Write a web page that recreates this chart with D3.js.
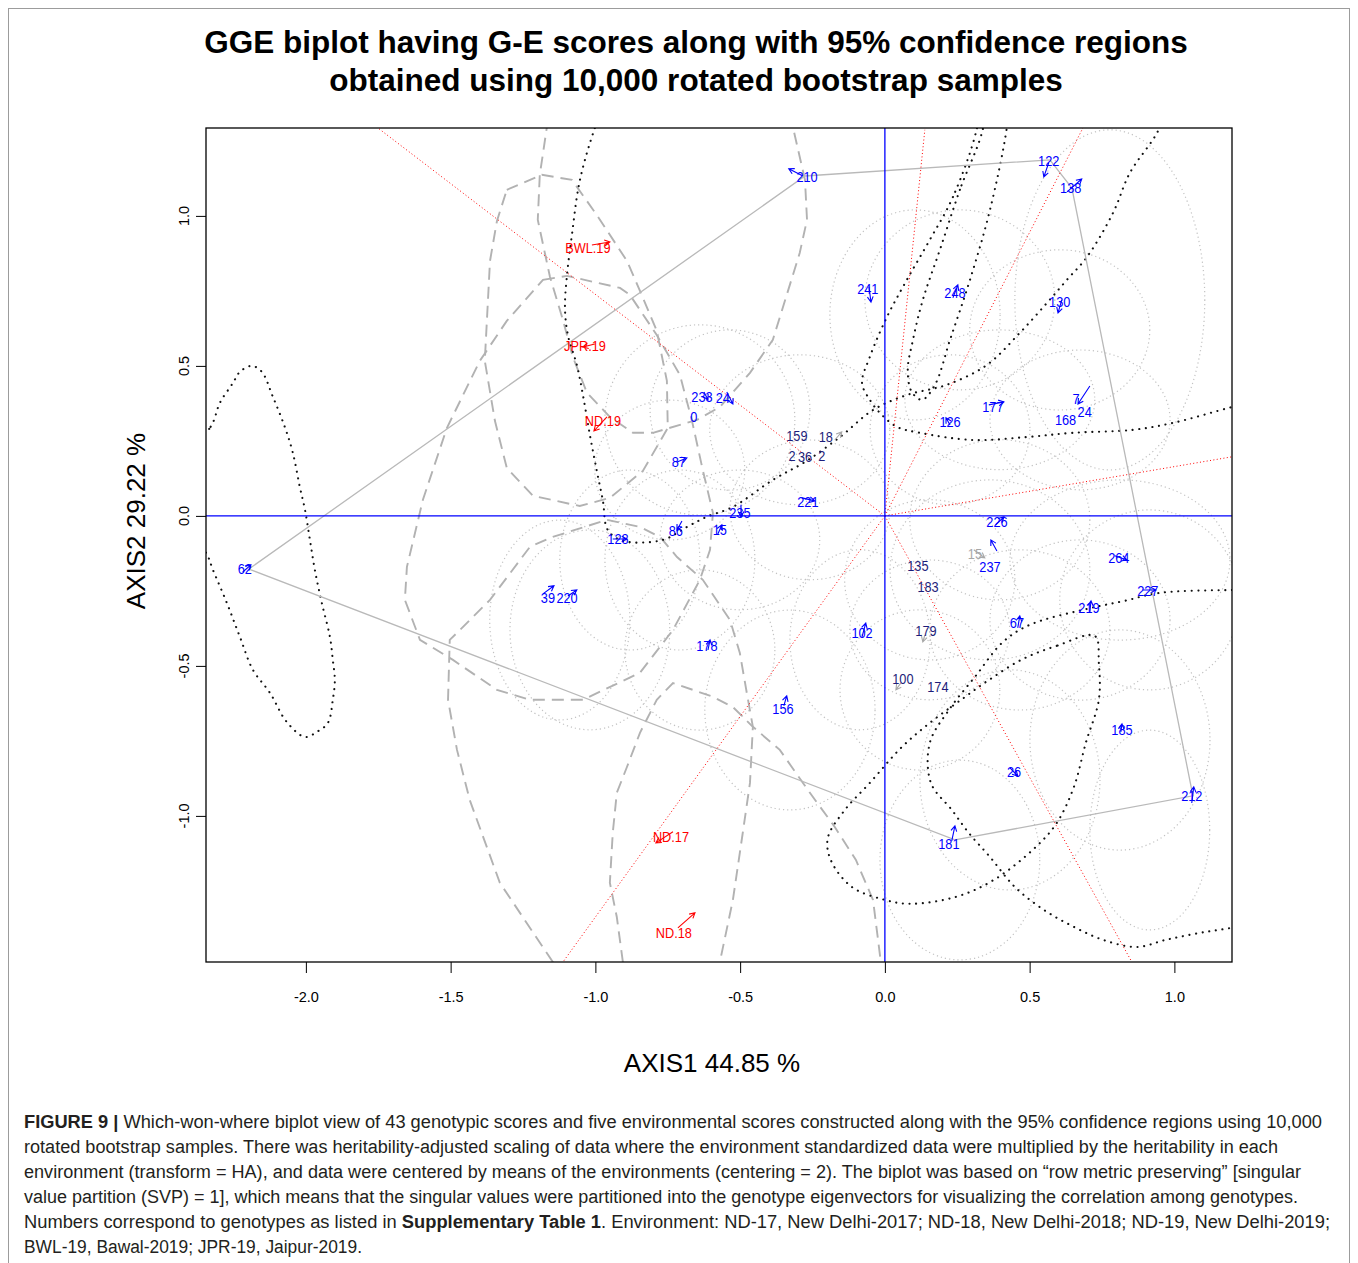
<!DOCTYPE html>
<html><head><meta charset="utf-8">
<script src="https://cdn.jsdelivr.net/npm/d3@7"></script>
<style>body{margin:0;background:#fff}svg{display:block}</style>
</head><body>
<svg id="c" width="1358" height="1263"></svg>
<script>
// ---------------- DATA ----------------
const titleLines = ["GGE biplot having G-E scores along with 95% confidence regions",
                    "obtained using 10,000 rotated bootstrap samples"];
const xAxisTitle = "AXIS1 44.85 %";
const yAxisTitle = "AXIS2 29.22 %";
const xTicks = [-2.0, -1.5, -1.0, -0.5, 0.0, 0.5, 1.0];
const yTicks = [-1.0, -0.5, 0.0, 0.5, 1.0];

// genotype scores (label, AXIS1, AXIS2, colour class b=blue n=navy g=gray)
const genoLabels = ["210","122","138","241","248","130","233","24","0","87","159","18","2","36","2","221","235","86","15","128","62","39","220","178","156","102","135","183","179","100","174","226","15","237","264","227","219","67","185","26","212","181","126","177","168","7","24"];
const genoX = [-0.269,0.566,0.642,-0.059,0.242,0.604,-0.632,-0.560,-0.660,-0.712,-0.304,-0.204,-0.321,-0.276,-0.218,-0.266,-0.501,-0.722,-0.570,-0.922,-2.211,-1.164,-1.098,-0.615,-0.352,-0.079,0.114,0.149,0.142,0.062,0.183,0.387,0.311,0.363,0.808,0.908,0.705,0.456,0.819,0.446,1.060,0.221,0.225,0.373,0.624,0.660,0.690];
const genoY = [1.130,1.183,1.093,0.757,0.743,0.713,0.397,0.393,0.330,0.180,0.267,0.263,0.200,0.197,0.200,0.047,0.010,-0.050,-0.047,-0.077,-0.177,-0.273,-0.273,-0.433,-0.643,-0.390,-0.167,-0.237,-0.383,-0.543,-0.570,-0.020,-0.127,-0.170,-0.140,-0.250,-0.307,-0.357,-0.713,-0.853,-0.933,-1.093,0.313,0.363,0.322,0.392,0.348];
const genoColor = ["b","b","b","b","b","b","b","b","b","b","n","n","n","n","n","b","b","b","b","b","b","b","b","b","b","b","n","n","n","n","n","b","g","b","b","b","b","b","b","b","b","b","b","b","b","b","b"];

// environment scores
const envLabels = ["BWL.19","JPR.19","ND.19","ND.17","ND.18"];
const envX = [-1.026,-1.036,-0.974,-0.739,-0.729];
const envY = [0.893,0.567,0.317,-1.070,-1.390];

// convex hull (which-won-where polygon) vertices: 62, 210, 122, 138, 212, 181
const hullX = [-2.197,-0.276,0.570,0.646,1.064,0.242];
const hullY = [-0.177,1.133,1.187,1.093,-0.933,-1.080];

// sector rays from the origin (end points on the plot border)
const rayX = [-1.751,0.138,0.684,1.199,0.853,-1.112];
const rayY = [1.293,1.287,1.293,0.197,-1.487,-1.487];

// small bootstrap arrows: [x0,y0,x1,y1,colour]
const genoArrows = [
 [-0.283,1.133,-0.332,1.157,"b"],[0.566,1.177,0.549,1.130,"b"],[0.629,1.080,0.680,1.123,"b"],
 [-0.055,0.763,-0.048,0.713,"b"],[0.235,0.727,0.252,0.770,"b"],[0.611,0.720,0.598,0.677,"b"],
 [0.359,0.370,0.411,0.380,"b"],[0.225,0.303,0.211,0.327,"b"],[0.708,0.433,0.667,0.373,"b"],
 [-0.625,0.413,-0.611,0.387,"b"],[-0.546,0.413,-0.525,0.373,"b"],[-0.718,0.180,-0.684,0.193,"b"],
 [-0.287,0.060,-0.242,0.050,"b"],[-0.497,0.037,-0.497,-0.003,"b"],[-0.701,-0.017,-0.718,-0.047,"b"],
 [-0.577,-0.060,-0.563,-0.030,"b"],[-0.940,-0.077,-0.891,-0.077,"b"],[-2.218,-0.187,-2.190,-0.163,"b"],
 [-1.181,-0.260,-1.143,-0.233,"b"],[-1.095,-0.267,-1.064,-0.247,"b"],[-0.611,-0.447,-0.604,-0.413,"b"],
 [-0.349,-0.633,-0.339,-0.600,"b"],[-0.079,-0.403,-0.066,-0.357,"b"],[0.383,-0.030,0.411,-0.003,"b"],
 [0.387,-0.117,0.366,-0.080,"b"],[0.307,-0.113,0.345,-0.140,"g"],[0.794,-0.133,0.836,-0.147,"b"],
 [0.891,-0.247,0.936,-0.247,"b"],[0.708,-0.320,0.712,-0.283,"b"],[0.459,-0.373,0.466,-0.333,"b"],
 [0.815,-0.720,0.819,-0.693,"b"],[0.432,-0.840,0.459,-0.867,"b"],[1.060,-0.957,1.067,-0.903,"b"],
 [0.231,-1.083,0.242,-1.033,"b"],[0.055,-0.557,0.038,-0.580,"g"],[0.138,-0.397,0.131,-0.420,"g"],
 [-0.173,0.253,-0.149,0.280,"g"]
];
const envArrows = [
 [-1.012,0.903,-0.950,0.913],[-1.002,0.573,-1.043,0.563],[-0.960,0.330,-1.005,0.283],
 [-0.732,-1.053,-0.791,-1.090],[-0.715,-1.373,-0.656,-1.323]
];

// genotype 95% confidence regions (light dotted), centre & half-axes
const ellCX = [0.104,0.259,0.777,0.604,0.397,0.674,0.225,-0.639,-0.535,-0.743,-0.294,-0.259,-0.501,-0.708,-0.881,-1.123,-1.019,-0.639,-0.328,-0.086,0.155,0.155,0.121,0.397,0.363,0.812,0.915,0.674,0.466,0.812,0.432,0.915,0.259];
const ellCY = [0.670,0.720,0.720,0.620,0.387,0.320,0.287,0.320,0.353,0.153,0.287,0.020,-0.080,-0.147,-0.147,-0.347,-0.380,-0.447,-0.647,-0.413,-0.213,-0.380,-0.580,-0.013,-0.180,-0.147,-0.280,-0.347,-0.380,-0.747,-0.880,-1.047,-1.147];
const ellRX = [0.294,0.328,0.328,0.311,0.328,0.311,0.276,0.328,0.276,0.259,0.311,0.276,0.276,0.259,0.242,0.242,0.276,0.259,0.294,0.242,0.294,0.276,0.276,0.311,0.345,0.380,0.311,0.311,0.311,0.311,0.311,0.207,0.276];
const ellRY = [0.350,0.300,0.567,0.267,0.233,0.233,0.250,0.317,0.267,0.233,0.250,0.233,0.233,0.300,0.300,0.333,0.333,0.267,0.333,0.300,0.267,0.233,0.267,0.267,0.300,0.267,0.300,0.267,0.267,0.367,0.367,0.333,0.333];

// environment confidence regions (dashed)
const regionBWL = [[-1.306,1.087],[-1.185,1.137],[-1.081,1.120],[-0.995,1.003],[-0.891,0.850],[-0.846,0.750],[-0.788,0.617],[-0.753,0.450],[-0.750,0.293],[-0.836,0.150],[-0.950,0.060],[-1.054,0.033],[-1.216,0.067],[-1.306,0.160],[-1.347,0.317],[-1.382,0.517],[-1.364,0.850],[-1.340,0.983]];
const regionJPR = [[-1.181,0.787],[-1.098,0.800],[-0.915,0.760],[-0.881,0.737],[-0.788,0.603],[-0.708,0.470],[-0.667,0.320],[-0.629,0.153],[-0.594,0.010],[-0.604,-0.113],[-0.639,-0.213],[-0.732,-0.380],[-0.846,-0.523],[-1.043,-0.613],[-1.226,-0.613],[-1.340,-0.580],[-1.492,-0.480],[-1.606,-0.413],[-1.658,-0.280],[-1.651,-0.170],[-1.596,0.053],[-1.513,0.293],[-1.399,0.517],[-1.306,0.650]];
const regionND19 = [[-1.160,1.45],[-1.168,1.293],[-1.192,1.137],[-1.199,0.987],[-1.157,0.797],[-1.112,0.653],[-1.078,0.530],[-1.029,0.410],[-0.950,0.330],[-0.870,0.277],[-0.801,0.277],[-0.649,0.320],[-0.570,0.363],[-0.466,0.477],[-0.387,0.587],[-0.294,0.877],[-0.269,0.987],[-0.276,1.120],[-0.317,1.293],[-0.330,1.45]];
const regionND17 = [[-1.147,-1.487],[-1.330,-1.223],[-1.434,-0.947],[-1.478,-0.780],[-1.509,-0.613],[-1.503,-0.413],[-1.478,-0.390],[-1.364,-0.280],[-1.226,-0.103],[-1.147,-0.070],[-0.960,-0.013],[-0.846,-0.037],[-0.777,-0.070],[-0.718,-0.137],[-0.629,-0.213],[-0.535,-0.347],[-0.501,-0.457],[-0.477,-0.590],[-0.456,-0.703],[-0.466,-0.890],[-0.491,-1.057],[-0.525,-1.280],[-0.570,-1.487],[-0.590,-1.60],[-1.100,-1.60]];
const regionND18 = [[-0.905,-1.487],[-0.926,-1.337],[-0.950,-1.223],[-0.940,-1.057],[-0.926,-0.923],[-0.891,-0.837],[-0.846,-0.723],[-0.788,-0.613],[-0.732,-0.557],[-0.594,-0.603],[-0.525,-0.637],[-0.456,-0.703],[-0.363,-0.780],[-0.259,-0.923],[-0.173,-1.037],[-0.100,-1.147],[-0.041,-1.280],[-0.014,-1.487],[-0.010,-1.60],[-0.900,-1.60]];

// confidence regions of the polygon-vertex genotypes (black dotted)
const regionG62 = [[-2.470,0.153],[-2.329,0.297],[-2.297,0.377],[-2.252,0.443],[-2.228,0.480],[-2.187,0.500],[-2.152,0.480],[-2.114,0.397],[-2.073,0.297],[-2.045,0.210],[-2.021,0.097],[-2.003,0.020],[-1.986,-0.080],[-1.969,-0.180],[-1.945,-0.290],[-1.917,-0.403],[-1.907,-0.480],[-1.900,-0.547],[-1.907,-0.613],[-1.924,-0.690],[-1.962,-0.720],[-2.003,-0.737],[-2.066,-0.687],[-2.124,-0.590],[-2.183,-0.513],[-2.228,-0.403],[-2.273,-0.290],[-2.321,-0.180],[-2.345,-0.123],[-2.470,0.020]];
const regionG210 = [[-0.950,1.420],[-1.002,1.293],[-1.054,1.117],[-1.081,0.937],[-1.098,0.803],[-1.105,0.693],[-1.095,0.603],[-1.064,0.503],[-1.043,0.403],[-1.019,0.270],[-0.995,0.150],[-0.974,0.050],[-0.957,-0.047],[-0.905,-0.083],[-0.767,-0.080],[-0.684,-0.037],[-0.615,-0.003],[-0.525,0.030],[-0.387,0.120],[-0.276,0.180],[-0.155,0.263],[-0.041,0.353],[0.076,0.403],[0.214,0.437],[0.352,0.503],[0.466,0.610],[0.560,0.710],[0.629,0.787],[0.698,0.863],[0.788,1.010],[0.846,1.143],[0.940,1.277],[1.002,1.420]];
const regionG122 = [[0.318,1.293],[0.235,1.063],[0.155,0.920],[0.076,0.787],[0.007,0.663],[-0.052,0.530],[-0.079,0.443],[-0.052,0.387],[-0.017,0.343],[0.041,0.297],[0.121,0.277],[0.304,0.253],[0.491,0.263],[0.649,0.277],[0.857,0.287],[0.995,0.310],[1.199,0.363],[1.364,0.403],[1.364,1.420],[0.330,1.420]];
const regionG138 = [[0.339,1.293],[0.259,1.087],[0.190,0.887],[0.131,0.720],[0.097,0.587],[0.079,0.487],[0.093,0.413],[0.128,0.387],[0.173,0.437],[0.225,0.587],[0.294,0.787],[0.363,1.020],[0.421,1.293],[0.432,1.420],[0.345,1.420]];
const regionG181 = [[0.725,-0.400],[0.594,-0.433],[0.477,-0.477],[0.359,-0.547],[0.263,-0.613],[0.159,-0.687],[0.059,-0.770],[-0.052,-0.890],[-0.138,-0.980],[-0.197,-1.073],[-0.187,-1.147],[-0.114,-1.237],[0.000,-1.280],[0.086,-1.293],[0.245,-1.270],[0.377,-1.213],[0.522,-1.103],[0.594,-1.023],[0.653,-0.903],[0.694,-0.757],[0.739,-0.613],[0.739,-0.490]];
const regionG212 = [[1.364,-0.247],[1.199,-0.247],[0.946,-0.257],[0.829,-0.283],[0.712,-0.307],[0.501,-0.363],[0.408,-0.420],[0.314,-0.533],[0.221,-0.647],[0.155,-0.757],[0.159,-0.890],[0.231,-0.980],[0.290,-1.057],[0.363,-1.137],[0.449,-1.237],[0.549,-1.313],[0.653,-1.370],[0.753,-1.413],[0.870,-1.437],[0.971,-1.413],[1.088,-1.390],[1.216,-1.370],[1.364,-1.340]];

const captionLines = [
 [["FIGURE 9 | ",1],["Which-won-where biplot view of 43 genotypic scores and five environmental scores constructed along with the 95% confidence regions using 10,000",0]],
 [["rotated bootstrap samples. There was heritability-adjusted scaling of data where the environment standardized data were multiplied by the heritability in each",0]],
 [["environment (transform = HA), and data were centered by means of the environments (centering = 2). The biplot was based on \u201crow metric preserving\u201d [singular",0]],
 [["value partition (SVP) = 1], which means that the singular values were partitioned into the genotype eigenvectors for visualizing the correlation among genotypes.",0]],
 [["Numbers correspond to genotypes as listed in ",0],["Supplementary Table 1",1],[". Environment: ND-17, New Delhi-2017; ND-18, New Delhi-2018; ND-19, New Delhi-2019;",0]],
 [["BWL-19, Bawal-2019; JPR-19, Jaipur-2019.",0]]
];
const captionWidths = [1298,1254,1277,1274,1306,338];

// ---------------- DRAWING ----------------
const FONT = "'Liberation Sans', Arial, Helvetica, sans-serif";
const svg = d3.select("#c");
const P = {l:206, r:1232, t:128, b:962};
const x = d3.scaleLinear().domain([-2.345, 1.199]).range([P.l, P.r]);
const y = d3.scaleLinear().domain([-1.487, 1.293]).range([P.b, P.t]);
const colMap = {b:"#0000ff", n:"#1d1d7a", g:"#a8a8a8"};

// figure frame
svg.append("rect").attr("x",8.5).attr("y",8.5).attr("width",1341).attr("height",1300)
  .attr("fill","none").attr("stroke","#9c9c9c").attr("stroke-width",1);

// title
svg.append("g").selectAll("text").data(titleLines).join("text")
  .attr("x",696).attr("y",(d,i)=>53+i*38).attr("text-anchor","middle")
  .attr("font-family",FONT).attr("font-weight","bold").attr("font-size",31.5)
  .attr("fill","#000").text(d=>d);

svg.append("defs").append("clipPath").attr("id","clip")
  .append("rect").attr("x",P.l).attr("y",P.t).attr("width",P.r-P.l).attr("height",P.b-P.t);
const plot = svg.append("g").attr("clip-path","url(#clip)");

// light dotted genotype regions
plot.append("g").selectAll("ellipse").data(ellCX).join("ellipse")
  .attr("cx",(d,i)=>x(ellCX[i])).attr("cy",(d,i)=>y(ellCY[i]))
  .attr("rx",(d,i)=>x(ellRX[i])-x(0)).attr("ry",(d,i)=>y(0)-y(ellRY[i]))
  .attr("fill","none").attr("stroke","#c2c2c2").attr("stroke-width",1.2)
  .attr("stroke-dasharray","1.2 3");

// dashed environment regions
const lineLin = d3.line().x(d=>x(d[0])).y(d=>y(d[1])).curve(d3.curveLinearClosed);
plot.append("g").selectAll("path").data([regionBWL,regionJPR,regionND19,regionND17,regionND18]).join("path")
  .attr("d",lineLin).attr("fill","none").attr("stroke","#b2b2b2").attr("stroke-width",1.9)
  .attr("stroke-dasharray","12 7");

// black dotted regions
const lineSm = d3.line().x(d=>x(d[0])).y(d=>y(d[1])).curve(d3.curveCatmullRomClosed);
plot.append("g").selectAll("path").data([regionG62,regionG210,regionG122,regionG138,regionG181,regionG212]).join("path")
  .attr("d",lineSm).attr("fill","none").attr("stroke","#111").attr("stroke-width",2.1)
  .attr("stroke-linecap","round").attr("stroke-dasharray","0.1 6.6");

// hull
plot.append("path").datum(hullX.map((v,i)=>[v,hullY[i]])).attr("d",lineLin)
  .attr("fill","none").attr("stroke","#b9b9b9").attr("stroke-width",1.3);

// sector rays
plot.append("g").selectAll("line").data(rayX).join("line")
  .attr("x1",x(0)).attr("y1",y(0)).attr("x2",(d,i)=>x(rayX[i])).attr("y2",(d,i)=>y(rayY[i]))
  .attr("stroke","#ff0000").attr("stroke-width",1).attr("stroke-dasharray","1 2.4");

// origin axes
plot.append("line").attr("x1",P.l).attr("x2",P.r).attr("y1",y(0)).attr("y2",y(0))
  .attr("stroke","#0000ff").attr("stroke-width",1.3);
plot.append("line").attr("x1",x(0)).attr("x2",x(0)).attr("y1",P.t).attr("y2",P.b)
  .attr("stroke","#0000ff").attr("stroke-width",1.3);

// arrows
function arrowPath(a){
  const X0=x(a[0]),Y0=y(a[1]),X1=x(a[2]),Y1=y(a[3]);
  const t=Math.atan2(Y1-Y0,X1-X0), L=6;
  return `M${X0},${Y0}L${X1},${Y1}M${X1-L*Math.cos(t-0.5)},${Y1-L*Math.sin(t-0.5)}L${X1},${Y1}L${X1-L*Math.cos(t+0.5)},${Y1-L*Math.sin(t+0.5)}`;
}
plot.append("g").selectAll("path").data(genoArrows).join("path")
  .attr("d",arrowPath).attr("fill","none").attr("stroke",d=>colMap[d[4]]).attr("stroke-width",1.1);
plot.append("g").selectAll("path").data(envArrows).join("path")
  .attr("d",arrowPath).attr("fill","none").attr("stroke","#ff0000").attr("stroke-width",1.1);

// labels (slightly condensed, as in the R device output)
plot.append("g").selectAll("text").data(genoLabels).join("text")
  .attr("transform",(d,i)=>`translate(${x(genoX[i])},${y(genoY[i])}) scale(0.88,1)`)
  .attr("dy","0.36em")
  .attr("text-anchor","middle").attr("font-family",FONT).attr("font-size",14.5)
  .attr("fill",(d,i)=>colMap[genoColor[i]]).text(d=>d);
plot.append("g").selectAll("text").data(envLabels).join("text")
  .attr("transform",(d,i)=>`translate(${x(envX[i])},${y(envY[i])}) scale(0.88,1)`)
  .attr("dy","0.36em")
  .attr("text-anchor","middle").attr("font-family",FONT).attr("font-size",14.5)
  .attr("fill","#ff0000").text(d=>d);

// box
svg.append("rect").attr("x",P.l).attr("y",P.t).attr("width",P.r-P.l).attr("height",P.b-P.t)
  .attr("fill","none").attr("stroke","#000").attr("stroke-width",1.3);

// x axis
const xa = svg.append("g").attr("transform",`translate(0,${P.b})`)
  .call(d3.axisBottom(x).tickValues(xTicks).tickFormat(d=>d.toFixed(1)).tickSize(11).tickPadding(19).tickSizeOuter(0));
xa.select(".domain").remove();
xa.selectAll("text").attr("font-family",FONT).attr("font-size",14.5).attr("fill","#000");
xa.selectAll("line").attr("stroke","#000");

// y axis
const ya = svg.append("g").attr("transform",`translate(${P.l},0)`)
  .call(d3.axisLeft(y).tickValues(yTicks).tickFormat("").tickSize(10).tickSizeOuter(0));
ya.select(".domain").remove();
ya.selectAll("line").attr("stroke","#000");
svg.append("g").selectAll("text").data(yTicks).join("text")
  .attr("transform",d=>`translate(189,${y(d)}) rotate(-90)`).attr("text-anchor","middle")
  .attr("font-family",FONT).attr("font-size",14.5).attr("fill","#000").text(d=>d.toFixed(1));

// axis titles
svg.append("text").attr("x",712).attr("y",1072).attr("text-anchor","middle")
  .attr("font-family",FONT).attr("font-size",26).attr("fill","#000").text(xAxisTitle);
svg.append("text").attr("transform","translate(145,521) rotate(-90)").attr("text-anchor","middle")
  .attr("font-family",FONT).attr("font-size",26).attr("fill","#000").text(yAxisTitle);

// caption
const cap = svg.append("g");
captionLines.forEach((segs,i)=>{
  const t = cap.append("text").attr("x",24).attr("y",1128+i*25)
    .attr("font-family",FONT).attr("font-size",18).attr("fill","#231f20")
    .attr("textLength",captionWidths[i]).attr("lengthAdjust","spacingAndGlyphs");
  segs.forEach(s=>t.append("tspan").attr("font-weight",s[1]?"bold":"normal").text(s[0]));
});
</script>
</body></html>
